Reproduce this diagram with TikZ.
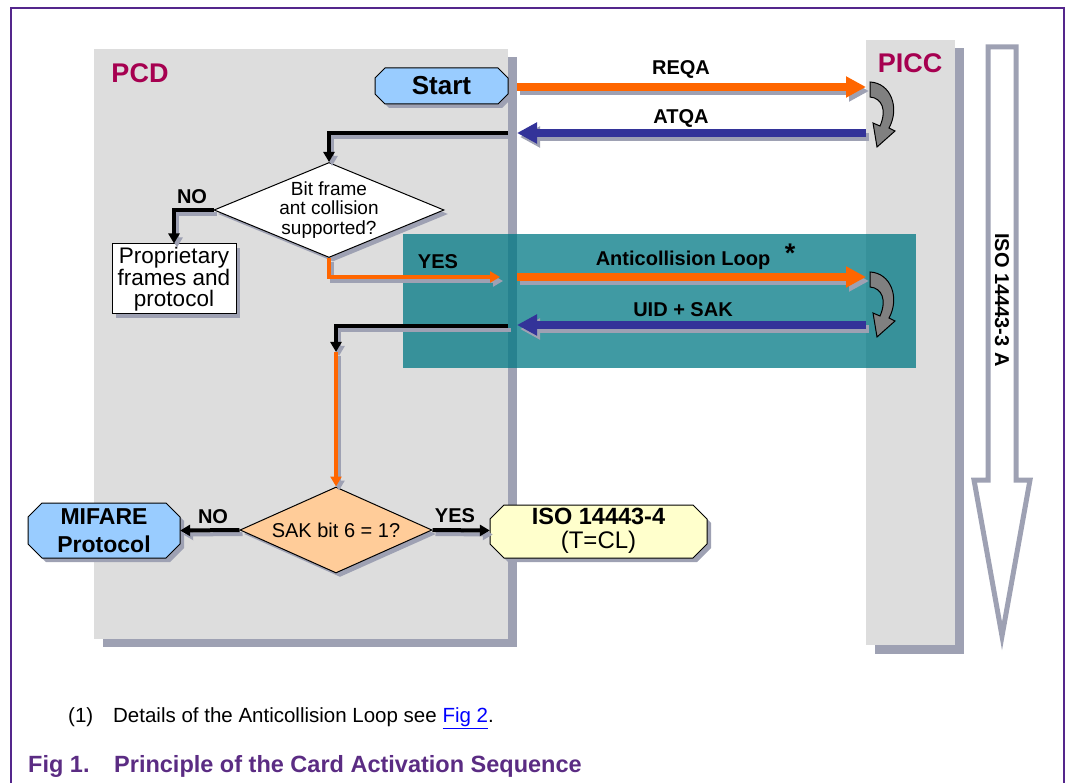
\documentclass[tikz,border=0pt]{standalone}
\usepackage{fontspec}
\setmainfont{Liberation Sans}
\usetikzlibrary{shapes.geometric,arrows.meta,shadows}

\definecolor{frameviolet}{RGB}{84,38,140}
\definecolor{panelgray}{RGB}{221,221,221}
\definecolor{shadowgray}{RGB}{158,161,179}
\definecolor{pcdred}{RGB}{166,0,80}
\definecolor{reqorange}{RGB}{255,102,0}
\definecolor{ansblue}{RGB}{51,51,153}
\definecolor{loopteal}{RGB}{0,120,132}
\definecolor{startblue}{RGB}{153,204,255}
\definecolor{sakpeach}{RGB}{255,204,153}
\definecolor{isoyellow}{RGB}{255,255,204}
\definecolor{turngray}{RGB}{128,128,128}
\definecolor{capviolet}{RGB}{91,44,131}
\definecolor{linkblue}{RGB}{0,0,255}

% draw a path twice: shadow first, then the path itself
\newcommand\shdraw[2]{%
  \draw[#1,shadowgray,transform canvas={xshift=3pt,yshift=-4pt}] #2;
  \draw[#1] #2;}

\begin{document}
\begin{tikzpicture}[x=1pt,y=-1pt,
every node/.style={inner sep=0pt},
lab/.style={font=\bfseries\fontsize{20}{22}\selectfont},
side/.style={font=\bfseries\fontsize{27}{30}\selectfont,text=pcdred},
box/.style={draw=black,line width=1pt,
  drop shadow={shadow xshift=4pt,shadow yshift=-4pt,fill=shadowgray,opacity=1}},
dia/.style={box,diamond},
msg/.style={line width=8pt,-{Triangle[length=20pt,width=20pt]}},
link/.style={line width=4pt,-{Triangle[length=10pt,width=11pt]}},
turn/.style={draw=black,fill=turngray,line width=1pt},
octpath/.style n args={3}{insert path={(-#1+#3,-#2) -- (#1-#3,-#2) -- (#1,-#2+#3)
  -- (#1,#2-#3) -- (#1-#3,#2) -- (-#1+#3,#2) -- (-#1,#2-#3) -- (-#1,-#2+#3) -- cycle}},
pics/octa/.style n args={4}{code={
  \fill[shadowgray,shift={(4,4)},octpath={#1}{#2}{#3}];
  \filldraw[fill=#4,draw=black,line width=1pt,octpath={#1}{#2}{#3}];
}}
]
\useasboundingbox (0,0) rectangle (1068,783);

% frame
\draw[frameviolet,line width=1.3pt] (11,783) -- (11,8) -- (1064,8) -- (1064,783);

% PCD and PICC panels
\fill[shadowgray] (103,57) rectangle (517,647);
\fill[panelgray] (94,49) rectangle (508,639);
\fill[shadowgray] (875,48) rectangle (964,654);
\fill[panelgray] (866,40) rectangle (955,645);
\node[side] (pcd) at (140,73) {PCD};
\node[side] (picc) at (910,63) {PICC};

% layer arrow
\draw[shadowgray,line width=5pt,fill=white,line join=miter]
  (988,47) -- (1016,47) -- (1016,480) -- (1030,480) -- (1002,636)
  -- (974,480) -- (988,480) -- cycle;
\node[lab,rotate=-90] (layer) at (1002,300) {ISO 14443-3 A};

% anticollision area
\fill[loopteal,opacity=0.75] (403,234) rectangle (916,368);

% flow nodes
\pic at (441.5,86) {octa={66.5}{18}{10}{startblue}};
\node[minimum width=133pt,minimum height=36pt,
  font=\bfseries\fontsize{26}{28}\selectfont] (start) at (441.5,86) {Start};
\node[dia,fill=white,minimum width=230pt,minimum height=95pt,
  label={[align=center,font=\fontsize{19}{19.5}\selectfont]center:Bit frame\\ant collision\\supported?}]
  (bitq) at (329,210) {};
\node[box,fill=white,minimum width=124pt,minimum height=70pt,align=center,
  font=\fontsize{22.5}{20.5}\selectfont] (prop) at (174,279)
  {Proprietary\\frames and\\protocol};
\node[dia,fill=sakpeach,minimum width=192pt,minimum height=86pt,
  label={[font=\fontsize{20}{22}\selectfont]center:SAK bit 6 = 1?}] (sakq) at (336,530) {};
\pic at (104,530.5) {octa={76}{27.5}{14}{startblue}};
\node[minimum width=152pt,minimum height=55pt,align=center,
  font=\bfseries\fontsize{23}{28}\selectfont] (mifare) at (104,530.5) {MIFARE\\Protocol};
\pic at (598.5,531.5) {octa={108.5}{26.5}{14}{isoyellow}};
\node[minimum width=217pt,minimum height=53pt,align=center,
  font=\fontsize{24}{24}\selectfont] (iso) at (598.5,530.5)
  {\textbf{\fontsize{23.5}{24}\selectfont ISO 14443-4}\\(T=CL)};

% end points on the panel edges
\coordinate (reqa-s) at (517,87);   \coordinate (reqa-e) at (866,87);
\coordinate (atqa-s) at (866,133);  \coordinate (atqa-e) at (517,133);
\coordinate (atqa-b) at (508,133);
\coordinate (yes-e) at (500,277);
\coordinate (loop-s) at (517,277);  \coordinate (loop-e) at (866,277);
\coordinate (uid-s) at (866,325);   \coordinate (uid-e) at (517,325);
\coordinate (uid-b) at (508,326);
\coordinate (drop) at (336,352);

% messages
\shdraw{msg,reqorange}{(reqa-s) -- (reqa-e)}
\shdraw{msg,ansblue}{(atqa-s) -- (atqa-e)}
\shdraw{msg,reqorange}{(loop-s) -- (loop-e)}
\shdraw{msg,ansblue}{(uid-s) -- (uid-e)}
\node[lab] (reqa) at (681,69) {REQA};
\node[lab] (atqa) at (681,118) {ATQA};
\node[lab] (loop) at (683,260) {Anticollision Loop};
\node[font=\bfseries\fontsize{27}{28}\selectfont] (star) at (790,253) {*};
\node[lab] (uid) at (683,310) {UID + SAK};

% PICC turn arrows
\foreach \dy in {0,190}
  \draw[turn,shift={(0,\dy)}] (870,82) .. controls (891,83) and (900,108) .. (889,128)
    -- (895,131) -- (877,147) -- (873,123) -- (880,126)
    .. controls (887,110) and (882,98) .. (870,97) -- cycle;

% flow connectors
\shdraw{link,black}{(atqa-b) -| (bitq.north)}
\shdraw{link,black}{(bitq.west) -| (prop.north)}
\shdraw{link,reqorange}{(bitq.south) |- (yes-e)}
\shdraw{link,black}{(uid-b) -| (drop)}
\shdraw{link,reqorange}{(drop) -- (sakq.north)}
\shdraw{link,black}{(sakq.west) -- (mifare.east)}
\shdraw{link,black}{(sakq.east) -- (iso.west)}
\node[lab] (no1) at (192,197) {NO};
\node[lab] (yes1) at (438,262) {YES};
\node[lab] (no2) at (213,517) {NO};
\node[lab] (yes2) at (455,516) {YES};

% note and caption
\node[anchor=west,font=\fontsize{20.5}{24}\selectfont] (note) at (68,718)
  {\makebox[45pt][l]{(1)}Details of the Anticollision Loop see \textcolor{linkblue}{\underline{Fig 2}}.};
\node[anchor=west,text=capviolet,font=\bfseries\fontsize{23.5}{26}\selectfont] (caption) at (28,766)
  {\makebox[86pt][l]{Fig 1.}Principle of the Card Activation Sequence};
\end{tikzpicture}
\end{document}
